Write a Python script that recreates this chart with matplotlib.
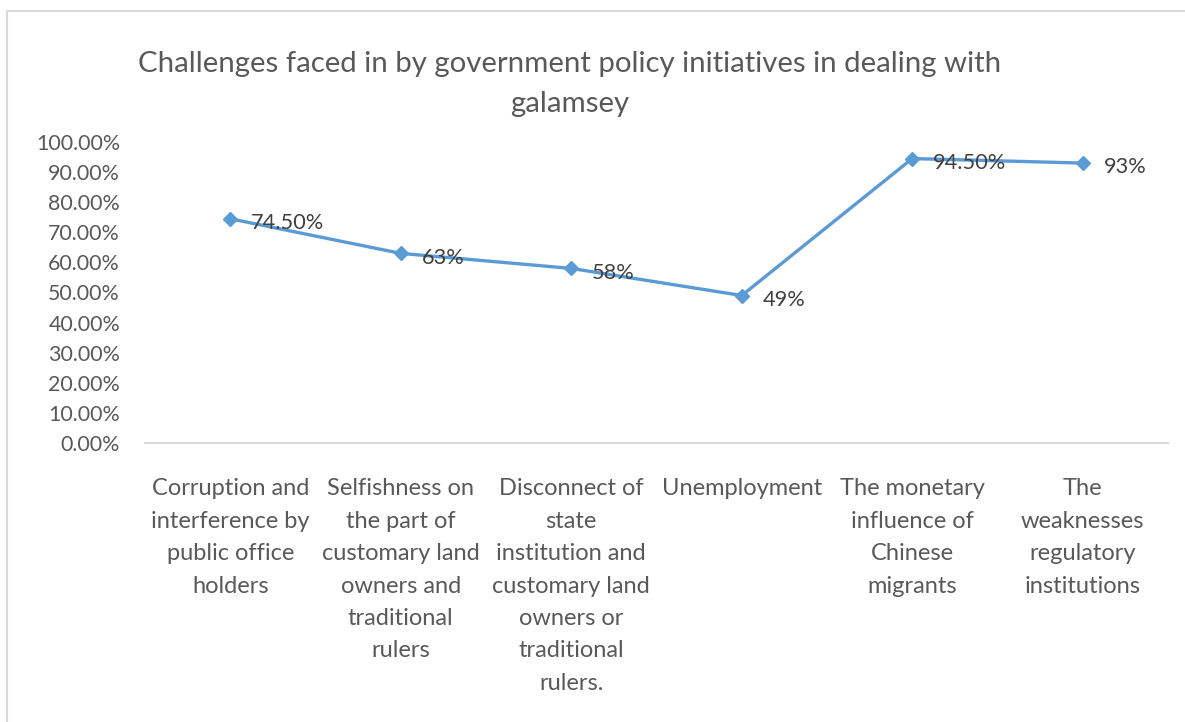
import matplotlib
matplotlib.use('Agg')
import matplotlib.pyplot as plt
from matplotlib.patches import Rectangle

# chart data
categories = ['Corruption and\ninterference by\npublic office\nholders',
              'Selfishness on\nthe part of\ncustomary land\nowners and\ntraditional\nrulers',
              'Disconnect of\nstate\ninstitution and\ncustomary land\nowners or\ntraditional\nrulers.',
              'Unemployment',
              'The monetary\ninfluence of\nChinese\nmigrants',
              'The\nweaknesses\nregulatory\ninstitutions']
values = [0.745, 0.63, 0.58, 0.49, 0.945, 0.93]
value_labels = ['74.50%', '63%', '58%', '49%', '94.50%', '93%']
y_ticks = [0.0, 0.1, 0.2, 0.3, 0.4, 0.5, 0.6, 0.7, 0.8, 0.9, 1.0]

plt.rcParams['font.family'] = ['Lato', 'DejaVu Sans']

W, H = 1185, 722
fig = plt.figure(figsize=(W / 100, H / 100), dpi=100)

# light border of the chart area
fig.patches.append(Rectangle((7 / W, -0.1), 1.2, 1 - 11 / H + 0.1, transform=fig.transFigure,
                             fill=False, edgecolor='#d9d9d9', linewidth=1.5))

ax = fig.add_axes([145 / W, (H - 443) / H, (1168 - 145) / W, (443 - 142) / H])

x = list(range(len(categories)))
ax.plot(x, values, color='#5b9bd5', linewidth=2.4, marker='D', markersize=7.5,
        markerfacecolor='#5b9bd5', markeredgecolor='#5b9bd5', zorder=3)

for xi, v, lab in zip(x, values, value_labels):
    ax.annotate(lab, (xi, v), xytext=(15, -3), textcoords='offset points',
                ha='left', va='center', fontsize=15.7, color='#404040')

ax.set_xlim(-0.5, len(categories) - 0.5)
ax.set_ylim(0, 1)
ax.set_yticks(y_ticks)
ax.set_yticklabels(['{:.2f}%'.format(t * 100) for t in y_ticks], fontsize=15.4)
ax.set_xticks(x)
ax.set_xticklabels(categories, linespacing=1.67, va='top', fontsize=17)

for s in ['top', 'right', 'left']:
    ax.spines[s].set_visible(False)
ax.spines['bottom'].set_color('#d9d9d9')
ax.spines['bottom'].set_linewidth(1.5)
ax.tick_params(axis='both', length=0, colors='#595959')
ax.tick_params(axis='y', pad=18)
ax.tick_params(axis='x', pad=25.5)

fig.text(570 / W, 1 - 84 / H,
         'Challenges faced in by government policy initiatives in dealing with\ngalamsey',
         ha='center', va='center', fontsize=21.2, color='#595959', linespacing=1.62)

fig.savefig('out.png', dpi=100)
